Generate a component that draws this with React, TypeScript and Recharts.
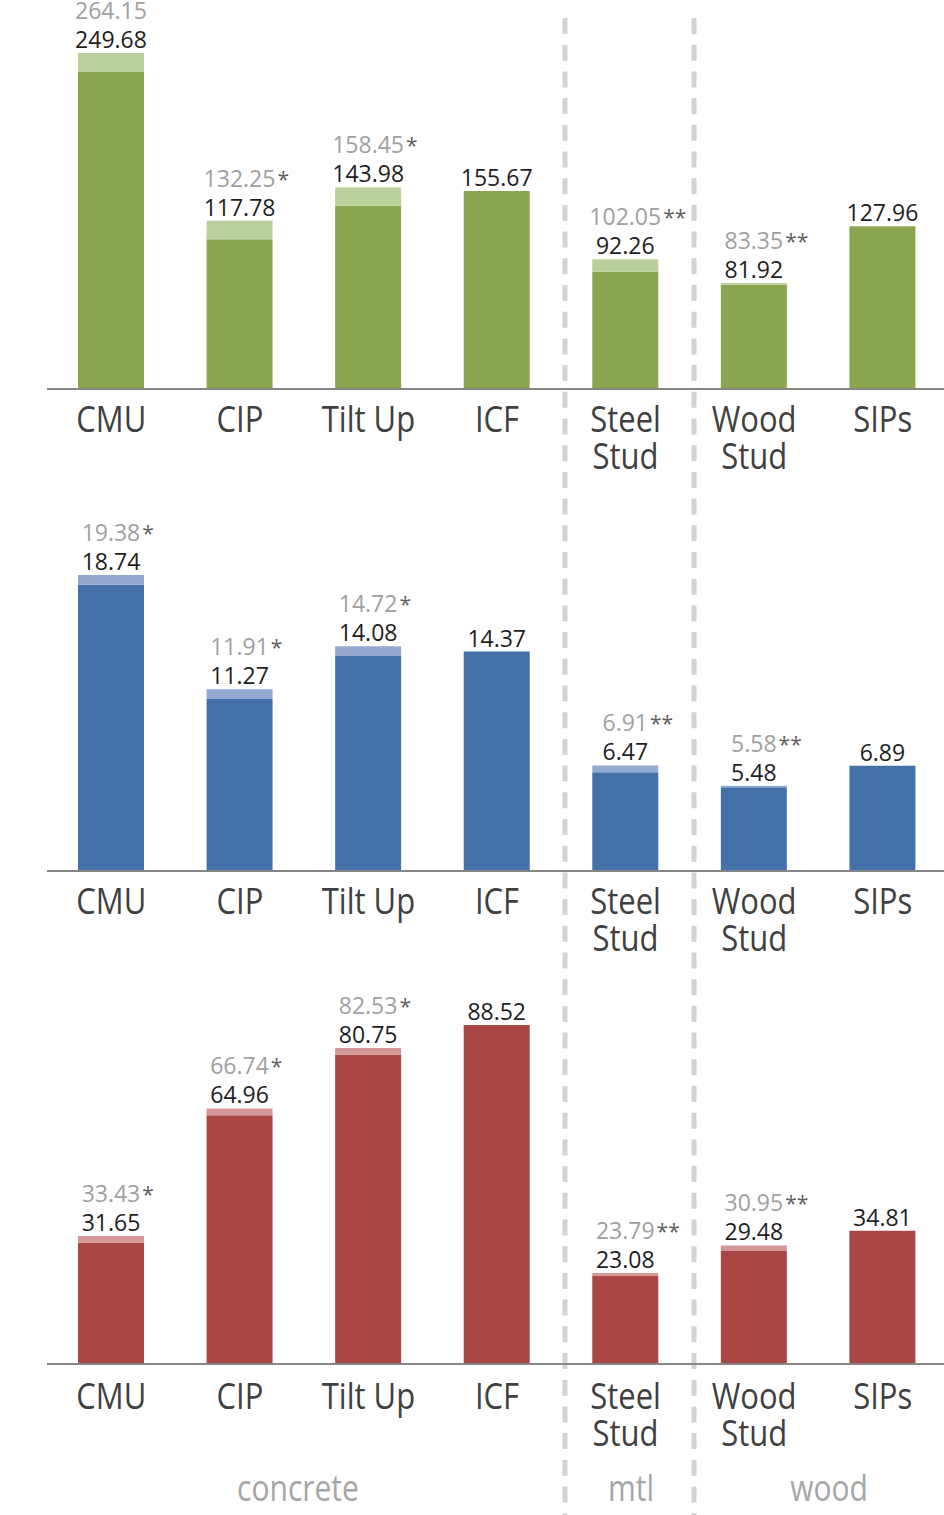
import { BarChart, Bar, XAxis, YAxis, LabelList } from 'recharts'

const CATEGORIES = ['CMU', 'CIP', 'Tilt Up', 'ICF', 'Steel Stud', 'Wood Stud', 'SIPs']
const GROUPS = ['concrete', 'mtl', 'wood']

const TOP_BASE = [249.68, 117.78, 143.98, 155.67, 92.26, 81.92, 127.96]
const TOP_HIGH = [264.15, 132.25, 158.45, null, 102.05, 83.35, null]
const TOP_MARK = ['', '*', '*', '', '**', '**', '']

const MID_BASE = [18.74, 11.27, 14.08, 14.37, 6.47, 5.48, 6.89]
const MID_HIGH = [19.38, 11.91, 14.72, null, 6.91, 5.58, null]
const MID_MARK = ['*', '*', '*', '', '**', '**', '']

const LOW_BASE = [31.65, 64.96, 80.75, 88.52, 23.08, 29.48, 34.81]
const LOW_HIGH = [33.43, 66.74, 82.53, null, 23.79, 30.95, null]
const LOW_MARK = ['*', '*', '*', '', '**', '**', '']

const FONT = '"Open Sans", "Noto Sans", sans-serif'

const PANELS = [
  { base: TOP_BASE, high: TOP_HIGH, mark: TOP_MARK, max: 300, top: 0, height: 500, mt: 7.4, axisH: 111, dark: '#8AA64F', light: '#BBD09B', tickDy: 43 },
  { base: MID_BASE, high: MID_HIGH, mark: MID_MARK, max: 25, top: 480, height: 500, mt: 9.25, axisH: 109, dark: '#4472A8', light: '#93A9D0', tickDy: 43 },
  { base: LOW_BASE, high: LOW_HIGH, mark: LOW_MARK, max: 100, top: 960, height: 555, mt: 21, axisH: 151, dark: '#AA4644', light: '#D49797', tickDy: 45 },
]

function textWidth(s: string, size: number) {
  let w = 0
  for (const c of s) w += c === '.' ? 0.266 : 0.572
  return w * size
}

function CategoryTick(props: any) {
  const { x, y, payload, dy } = props
  const name: string = payload.value
  const lines = name.endsWith('Stud') ? name.split(' ') : [name]
  return (
    <text transform={`translate(${x},${y + dy}) scale(1,1.15)`} textAnchor="middle"
      fontFamily={FONT} fontSize={31} fill="#404040">
      {lines.map((l, i) => (
        <tspan key={i} x={0} dy={i === 0 ? 0 : 37 / 1.15}>{l}</tspan>
      ))}
    </text>
  )
}

function Panel({ p }: { p: (typeof PANELS)[number] }) {
  const data = CATEGORIES.map((name, i) => ({
    name,
    base: p.base[i],
    extra: p.high[i] == null ? 0 : (p.high[i] as number) - p.base[i],
  }))

  const renderLabel = (props: any) => {
    const vb = props.viewBox ?? props
    const x = props.x ?? vb.x
    const y = props.y ?? vb.y
    const width = props.width ?? vb.width
    const height = props.height ?? vb.height
    const i = props.index
    const d = data[i]
    const top = y - (height / d.base) * d.extra
    const cx = x + width / 2
    const lo = d.base.toFixed(2)
    const hi = p.high[i]
    return (
      <g>
        <text x={cx} y={top - 5} textAnchor="middle" fontFamily={FONT} fontSize={23} fill="#1e1e1e">{lo}</text>
        {hi != null && (
          <text x={cx - textWidth(hi.toFixed(2), 23) / 2} y={top - 34} textAnchor="start" fontFamily={FONT} fontSize={23} fill="#a0a0a0">
            {hi.toFixed(2)}
            <tspan dx={2} fill="#5f5f5f" fontSize={21}>{p.mark[i]}</tspan>
          </text>
        )}
      </g>
    )
  }

  return (
    <div style={{ position: 'absolute', left: 0, top: p.top }}>
      <BarChart width={950} height={p.height} data={data} margin={{ top: p.mt, right: 3, left: 47, bottom: 0 }}>
        <YAxis hide domain={[0, p.max]} />
        <XAxis dataKey="name" interval={0} tickLine={false} height={p.axisH}
          axisLine={{ stroke: '#868686', strokeWidth: 2 }}
          tick={(tp: any) => <CategoryTick {...tp} dy={p.tickDy - 8} />} />
        <Bar dataKey="base" stackId="s" fill={p.dark} barSize={66} isAnimationActive={false}>
          <LabelList dataKey="base" content={renderLabel} />
        </Bar>
        <Bar dataKey="extra" stackId="s" fill={p.light} barSize={66} isAnimationActive={false} />
      </BarChart>
    </div>
  )
}

const DIVIDERS = [565, 694]
const GROUP_X = [298, 631, 829]

export default function App() {
  return (
    <div style={{ position: 'absolute', left: 0, top: 0, width: 944, height: 1515, overflow: 'hidden', background: '#fff' }}>
      <svg width={944} height={1515} style={{ position: 'absolute', left: 0, top: 0 }}>
        {DIVIDERS.map(x => (
          <line key={x} x1={x} x2={x} y1={18} y2={1515} stroke="#d3d3d3" strokeWidth={5} strokeDasharray="16 10.7" />
        ))}
        {GROUPS.map((g, i) => (
          <text key={g} transform={`translate(${GROUP_X[i]},1501) scale(1,1.2)`} textAnchor="middle"
            fontFamily={FONT} fontSize={30} fill="#a6a6a6">{g}</text>
        ))}
      </svg>
      {PANELS.map((p, i) => <Panel key={i} p={p} />)}
    </div>
  )
}
